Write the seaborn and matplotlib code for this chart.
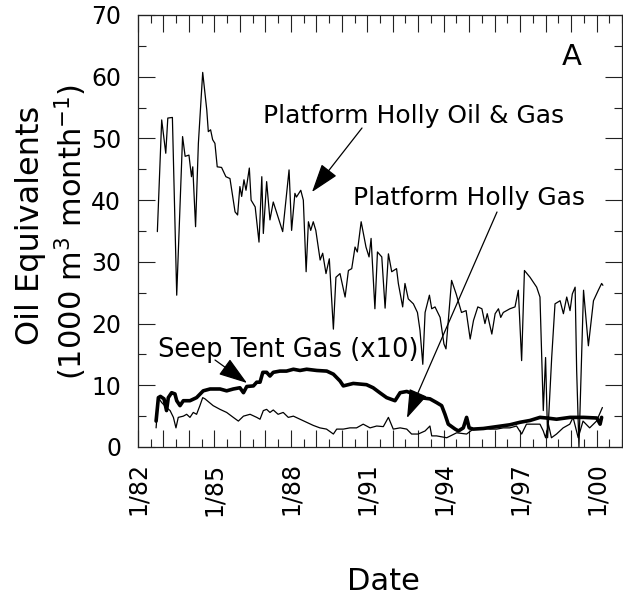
import matplotlib
matplotlib.use("Agg")
import matplotlib.pyplot as plt
import numpy as np
import pandas as pd
import seaborn as sns
from matplotlib.ticker import FixedLocator, MultipleLocator

# ---------------- data ----------------
oil_gas_year = [1982.76, 1982.93, 1983.09, 1983.17, 1983.35, 1983.52, 1983.75, 1983.85, 1984.0, 1984.1,
                1984.15, 1984.26, 1984.37, 1984.54, 1984.7, 1984.76, 1984.85, 1984.93, 1985.02, 1985.11,
                1985.28, 1985.45, 1985.61, 1985.81, 1985.91, 1986.0, 1986.07, 1986.16, 1986.24, 1986.37,
                1986.44, 1986.6, 1986.75, 1986.86, 1986.92, 1987.05, 1987.18, 1987.31, 1987.68, 1987.93,
                1988.03, 1988.16, 1988.22, 1988.39, 1988.49, 1988.6, 1988.69, 1988.78, 1988.88, 1988.98,
                1989.15, 1989.25, 1989.38, 1989.51, 1989.67, 1989.77, 1989.93, 1990.13, 1990.26, 1990.39,
                1990.52, 1990.61, 1990.76, 1990.95, 1991.07, 1991.15, 1991.3, 1991.4, 1991.57, 1991.7,
                1991.83, 1991.96, 1992.15, 1992.22, 1992.39, 1992.48, 1992.61, 1992.81, 1992.97, 1993.07,
                1993.18, 1993.27, 1993.44, 1993.53, 1993.66, 1993.86, 1994.01, 1994.09, 1994.31, 1994.49,
                1994.7, 1994.88, 1995.04, 1995.17, 1995.34, 1995.5, 1995.62, 1995.71, 1995.89, 1996.02,
                1996.15, 1996.24, 1996.34, 1996.6, 1996.8, 1996.93, 1997.06, 1997.17, 1997.39, 1997.65,
                1997.78, 1997.91, 1998.0, 1998.08, 1998.24, 1998.37, 1998.57, 1998.7, 1998.83, 1998.96,
                1999.05, 1999.16, 1999.22, 1999.31, 1999.49, 1999.68, 1999.88, 2000.07, 2000.2, 2000.25]
oil_gas_value = [34.9, 53.0, 47.6, 53.3, 53.4, 24.6, 50.3, 47.1, 47.3, 43.8,
                 45.4, 35.7, 49.2, 60.7, 54.6, 51.1, 51.4, 49.8, 49.2, 45.4,
                 45.3, 43.8, 43.5, 38.1, 37.6, 42.2, 40.6, 43.3, 41.6, 45.2,
                 40.0, 38.9, 33.2, 43.8, 34.6, 43.0, 36.8, 39.7, 34.9, 44.9,
                 35.1, 41.1, 40.5, 41.6, 40.0, 28.4, 36.5, 35.1, 36.5, 35.1,
                 30.3, 31.4, 28.1, 30.5, 19.1, 27.5, 28.1, 24.3, 28.6, 28.9,
                 32.4, 31.6, 36.5, 32.4, 30.8, 33.8, 22.4, 31.6, 30.8, 22.5,
                 31.3, 28.4, 28.9, 26.5, 22.7, 26.5, 24.0, 23.2, 21.8, 18.9,
                 13.4, 21.8, 24.6, 22.4, 22.7, 21.0, 16.7, 15.9, 27.0, 24.8,
                 21.8, 22.1, 17.5, 20.5, 22.7, 22.4, 20.0, 21.6, 18.3, 21.6,
                 22.4, 21.0, 21.8, 22.4, 22.7, 25.4, 14.0, 28.6, 27.5, 25.9,
                 24.3, 5.9, 14.5, 1.5, 14.5, 23.2, 23.7, 21.6, 24.3, 22.1,
                 24.8, 25.9, 12.4, 0.0, 25.4, 16.4, 23.7, 25.4, 26.5, 26.2]

gas_year = [1982.71, 1982.8, 1982.93, 1983.12, 1983.26, 1983.39, 1983.49, 1983.58, 1983.78, 1983.91,
            1984.04, 1984.17, 1984.3, 1984.43, 1984.54, 1984.63, 1984.95, 1985.22, 1985.48, 1985.74,
            1985.94, 1986.14, 1986.4, 1986.66, 1986.79, 1986.92, 1987.05, 1987.18, 1987.31, 1987.5,
            1987.7, 1987.9, 1988.1, 1988.36, 1988.62, 1988.88, 1989.14, 1989.4, 1989.67, 1989.8,
            1990.06, 1990.32, 1990.58, 1990.84, 1991.11, 1991.37, 1991.63, 1991.83, 1992.02, 1992.29,
            1992.55, 1992.74, 1993.0, 1993.27, 1993.46, 1993.53, 1993.72, 1994.12, 1994.51, 1994.9,
            1995.16, 1995.56, 1995.82, 1996.08, 1996.34, 1996.6, 1996.86, 1997.06, 1997.25, 1997.51,
            1997.78, 1997.91, 1998.0, 1998.11, 1998.23, 1998.43, 1998.69, 1998.95, 1999.08, 1999.28,
            1999.47, 1999.73, 2000.0, 2000.23]
gas_value = [3.1, 8.0, 7.2, 6.4, 5.9, 4.8, 3.1, 4.8, 5.0, 5.3,
             4.8, 5.6, 5.3, 6.7, 8.0, 7.8, 6.7, 6.1, 5.6, 4.8,
             4.2, 5.0, 5.3, 4.8, 4.5, 5.9, 6.1, 5.6, 6.0, 5.3,
             5.6, 4.8, 5.0, 4.5, 4.0, 3.5, 3.1, 2.9, 2.1, 2.9,
             2.9, 3.1, 3.1, 3.7, 3.1, 3.4, 3.3, 4.8, 2.9, 3.1,
             2.9, 2.1, 2.1, 2.6, 3.4, 1.8, 1.8, 1.5, 2.3, 2.1,
             2.9, 3.1, 2.9, 2.9, 3.1, 3.1, 3.4, 2.1, 3.7, 3.7,
             3.7, 2.6, 1.5, 3.7, 1.5, 2.1, 3.1, 3.7, 4.8, 1.5,
             4.2, 3.1, 4.2, 6.4]

seep_year = [1982.71, 1982.8, 1982.88, 1983.02, 1983.12, 1983.19, 1983.32, 1983.45, 1983.52, 1983.65,
             1983.78, 1984.04, 1984.3, 1984.56, 1984.83, 1985.22, 1985.48, 1985.74, 1986.0, 1986.14,
             1986.27, 1986.53, 1986.66, 1986.79, 1986.9, 1987.05, 1987.18, 1987.31, 1987.57, 1987.83,
             1988.1, 1988.36, 1988.62, 1989.02, 1989.41, 1989.67, 1989.93, 1990.06, 1990.45, 1990.97,
             1991.23, 1991.49, 1991.76, 1992.09, 1992.29, 1992.55, 1992.81, 1993.07, 1993.46, 1993.72,
             1993.92, 1994.05, 1994.18, 1994.45, 1994.58, 1994.77, 1994.9, 1995.0, 1995.16, 1995.56,
             1996.08, 1996.6, 1996.99, 1997.39, 1997.78, 1998.04, 1998.43, 1998.96, 1999.49, 2000.01,
             2000.14, 2000.2]
seep_value = [4.2, 8.0, 8.2, 7.8, 5.9, 8.0, 8.8, 8.6, 7.5, 6.7,
              7.5, 7.5, 8.0, 9.1, 9.4, 9.4, 9.1, 9.4, 9.6, 8.8,
              9.8, 9.9, 10.5, 10.5, 12.1, 12.1, 11.5, 12.1, 12.3, 12.3,
              12.6, 12.4, 12.6, 12.4, 12.3, 11.8, 10.7, 9.9, 10.3, 10.1,
              9.6, 8.8, 8.0, 7.5, 8.8, 9.0, 8.6, 8.0, 7.8, 7.2,
              6.7, 5.3, 3.7, 2.9, 2.6, 3.1, 4.8, 3.1, 2.9, 3.0,
              3.3, 3.6, 4.0, 4.3, 4.8, 4.7, 4.5, 4.8, 4.8, 4.7,
              3.7, 4.8]

x_tick_years = list(range(1982, 2001))
x_tick_labels = ["1/82", "", "", "1/85", "", "", "1/88", "", "", "1/91", "", "",
                 "1/94", "", "", "1/97", "", "", "1/00"]
y_ticks = [0, 10, 20, 30, 40, 50, 60, 70]

# ---------------- figure ----------------
sns.set_style("ticks")
plt.rcParams['font.family'] = ['DejaVu Sans']
plt.rcParams['mathtext.fontset'] = 'dejavusans'
plt.rcParams['text.color'] = 'black'
plt.rcParams['xtick.color'] = 'black'
plt.rcParams['ytick.color'] = 'black'
plt.rcParams['xtick.labelcolor'] = 'black'
plt.rcParams['ytick.labelcolor'] = 'black'

W, H = 623, 596
fig = plt.figure(figsize=(W / 100, H / 100), dpi=100)
ax = fig.add_axes([138 / W, 1 - 447 / H, 484 / W, 432 / H])

df_oil = pd.DataFrame({"Date": oil_gas_year, "Value": oil_gas_value})
df_gas = pd.DataFrame({"Date": gas_year, "Value": gas_value})
df_seep = pd.DataFrame({"Date": seep_year, "Value": seep_value})

sns.lineplot(data=df_oil, x="Date", y="Value", ax=ax, color="black", lw=0.9,
             estimator=None, sort=False)
sns.lineplot(data=df_gas, x="Date", y="Value", ax=ax, color="black", lw=0.9,
             estimator=None, sort=False)
sns.lineplot(data=df_seep, x="Date", y="Value", ax=ax, color="black", lw=2.6,
             estimator=None, sort=False, solid_joinstyle="round")

ax.set_xlim(1982, 2001)
ax.set_ylim(0, 70)
ax.xaxis.set_major_locator(FixedLocator(x_tick_years))
ax.set_xticklabels(x_tick_labels, rotation=90)
ax.xaxis.set_minor_locator(MultipleLocator(0.5))
ax.yaxis.set_major_locator(FixedLocator(y_ticks))
ax.set_yticklabels([str(v) for v in y_ticks])
ax.yaxis.set_minor_locator(MultipleLocator(5))
ax.tick_params(which="both", direction="in", top=True, right=True, width=0.8,
               color="#222222", labelcolor="black")
ax.tick_params(which="major", length=12)
ax.tick_params(which="minor", length=6)
ax.tick_params(axis="x", which="major", pad=11, labelsize=17)
ax.tick_params(axis="y", which="major", pad=12, labelsize=17)
for s in ax.spines.values():
    s.set_linewidth(0.9)
    s.set_color("#222222")
ax.set_xlabel("")
ax.set_ylabel("")

# axis titles
fig.text(31 / W, 1 - 225 / H, "Oil Equivalents", rotation=90, ha="center", va="center", fontsize=23)
fig.text(71 / W, 1 - 232 / H, "(1000 m$^{3}$ month$^{-1}$)", rotation=90, ha="center", va="center",
         fontsize=22)
fig.text(383 / W, 1 - 582 / H, "Date", ha="center", va="center", fontsize=22)


def fx(x):
    return x / W


def fy(y):
    return 1 - y / H


# annotation texts
fig.text(fx(263), fy(123), "Platform Holly Oil & Gas", ha="left", va="baseline", fontsize=18)
fig.text(fx(353), fy(205), "Platform Holly Gas", ha="left", va="baseline", fontsize=18)
fig.text(fx(158), fy(357), "Seep Tent Gas (x10)", ha="left", va="baseline", fontsize=18.5)
fig.text(fx(572), fy(65), "A", ha="center", va="baseline", fontsize=21)


def d(x, y):
    return (1982 + (x - 138) / (484 / 19), (447 - y) / (432 / 70))


arrow_kw = dict(arrowstyle="-|>,head_length=0.9,head_width=0.3", color="black", lw=0.9,
                shrinkA=0, shrinkB=0, mutation_scale=20)
ax.annotate("", xy=d(312, 192), xytext=d(362, 128), arrowprops=arrow_kw, annotation_clip=False)
ax.annotate("", xy=d(407, 418), xytext=d(497, 212), arrowprops=arrow_kw, annotation_clip=False)
ax.annotate("", xy=d(247, 383), xytext=d(215, 360), arrowprops=arrow_kw, annotation_clip=False)

fig.savefig("out.png", dpi=100)
